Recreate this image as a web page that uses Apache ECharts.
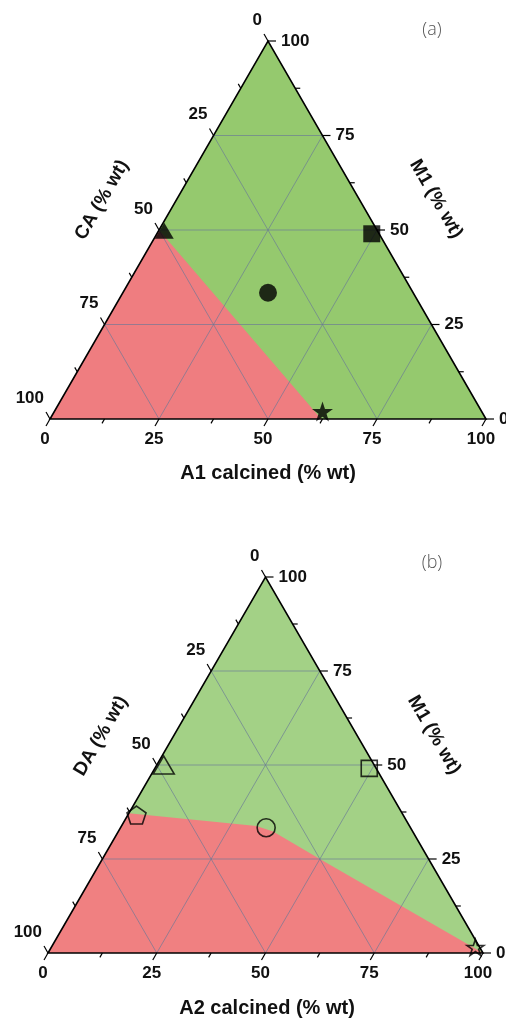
<!DOCTYPE html>
<html><head><meta charset="utf-8">
<script src="https://cdn.jsdelivr.net/npm/echarts@6/dist/echarts.min.js"></script>
<style>html,body{margin:0;padding:0;background:#fff}#c{width:506px;height:1019px}</style>
</head><body><div id="c"></div>
<script>
// ---------- data ----------
const tickMajor = [0, 25, 50, 75, 100];
const tickMinor = [12.5, 37.5, 62.5, 87.5];
const gridVals = [25, 50, 75];

// (a): A1 calcined / M1 (CA = 100 - A1 - M1)
const markersA_symbol = ['triangle', 'square', 'circle', 'star'];
const markersA_A1 = [1.3, 49.3, 33.3, 61.5];
const markersA_M1 = [49.8, 49.0, 33.4, 2.0];
const redA_A1 = [0, 0, 62.2];
const redA_M1 = [0, 50, 0];

// (b): A2 calcined / M1 (DA = 100 - A2 - M1)
const markersB_symbol = ['triangle', 'square', 'pentagon', 'circle', 'star'];
const markersB_A2 = [1.6, 49.3, 2.0, 33.5, 97.5];
const markersB_M1 = [50.0, 49.1, 36.7, 33.3, 1.5];
const redB_A2 = [0, 0, 31.0, 35.6, 50, 100];
const redB_M1 = [0, 37.2, 33.8, 32.3, 25, 0];

// ---------- helpers ----------
const SQ = Math.sqrt(3) / 2;
const tern = (a, m) => [a + m / 2, m * SQ];
const STAR = 'path://M50,0 L61.2,34.5 L97.6,34.5 L68.2,55.9 L79.4,90.5 L50,69.1 L20.6,90.5 L31.8,55.9 L2.4,34.5 L38.8,34.5 Z';
const PENT = 'path://M50,0 L97.6,34.5 L79.4,90.5 L20.6,90.5 L2.4,34.5 Z';
const NUMFONT = 'bold 17px Arial, "Liberation Sans", sans-serif';
const TITLEFONT = 'bold 20px Arial, "Liberation Sans", sans-serif';
const SIDEFONT = 'bold 19px Arial, "Liberation Sans", sans-serif';

const symStyleA = {
  triangle: { symbol: 'triangle', symbolSize: [19, 16] },
  square: { symbol: 'rect', symbolSize: 17 },
  circle: { symbol: 'circle', symbolSize: 18 },
  star: { symbol: STAR, symbolSize: [21, 20] }
};
const symStyleB = {
  triangle: { symbol: 'triangle', symbolSize: [21, 18] },
  square: { symbol: 'rect', symbolSize: 16 },
  circle: { symbol: 'circle', symbolSize: 18 },
  pentagon: { symbol: PENT, symbolSize: [19, 18] },
  star: { symbol: STAR, symbolSize: [17, 16] }
};

// edge points (in A, M) for each axis value
const edge = {
  A: v => tern(v, 0),
  M: v => tern(100 - v, v),
  C: v => tern(0, 100 - v)
};
const dirs = { A: [-0.5, 0.866], M: [1, 0], C: [-0.5, -0.866] };
const labelPos = {
  A: { dx: -5, dy: 20.5, align: 'center' },
  M: { dx: 13, dy: 0, align: 'left' },
  C: { dx: -6, dy: -21, align: 'right' }
};

function polySeries(gi, pts, fill, stroke, z) {
  return {
    type: 'custom', xAxisIndex: gi, yAxisIndex: gi, clip: false, silent: true, z: z,
    data: [[0, 0]],
    renderItem: (params, api) => ({
      type: 'polygon',
      shape: { points: pts.map(p => api.coord(p)) },
      style: stroke ? { fill: 'none', stroke: stroke, lineWidth: 1.6 } : { fill: fill }
    })
  };
}

function gridSeries(gi) {
  return {
    type: 'custom', xAxisIndex: gi, yAxisIndex: gi, clip: false, silent: true, z: 3,
    data: gridVals.map(v => [v, 0]),
    renderItem: (params, api) => {
      const v = api.value(0);
      const segs = [
        [tern(v, 0), tern(v, 100 - v)],
        [tern(0, v), tern(100 - v, v)],
        [tern(100 - v, 0), tern(0, 100 - v)]
      ];
      return {
        type: 'group',
        children: segs.map(s => {
          const p1 = api.coord(s[0]), p2 = api.coord(s[1]);
          return { type: 'line', shape: { x1: p1[0], y1: p1[1], x2: p2[0], y2: p2[1] },
            style: { stroke: 'rgba(105,120,150,0.65)', lineWidth: 1 } };
        })
      };
    }
  };
}

function tickSeries(gi, axis, values, len, withLabel) {
  return {
    type: 'custom', xAxisIndex: gi, yAxisIndex: gi, clip: false, silent: true, z: 6,
    data: values.map(v => [v, 0]),
    renderItem: (params, api) => {
      const v = api.value(0);
      const p = api.coord(edge[axis](v));
      const d = dirs[axis];
      const children = [{
        type: 'line',
        shape: { x1: p[0], y1: p[1], x2: p[0] + d[0] * len, y2: p[1] + d[1] * len },
        style: { stroke: '#000', lineWidth: 1.2 }
      }];
      if (withLabel) {
        const lp = labelPos[axis];
        children.push({
          type: 'text', x: p[0] + lp.dx, y: p[1] + lp.dy,
          style: { text: String(v), font: NUMFONT, fill: '#111', align: lp.align, verticalAlign: 'middle' }
        });
      }
      return { type: 'group', children: children };
    }
  };
}

function markerSeries(gi, names, aVals, mVals, styles, open) {
  return {
    type: 'scatter', xAxisIndex: gi, yAxisIndex: gi, z: 8, silent: true,
    data: names.map((n, i) => Object.assign({ value: tern(aVals[i], mVals[i]) }, styles[n])),
    itemStyle: open ? { color: 'rgba(0,0,0,0)', borderColor: '#000', borderWidth: 1.6 }
                    : { color: '#000', borderColor: '#000', borderWidth: 0 }
  };
}

function plotSeries(gi, redA, redM, green, red) {
  const tri = [tern(0, 0), tern(100, 0), tern(0, 100)];
  const redPts = redA.map((a, i) => tern(a, redM[i]));
  const s = [
    polySeries(gi, tri, green, null, 1),
    polySeries(gi, redPts, red, null, 2),
    gridSeries(gi),
    polySeries(gi, tri, null, '#000', 5)
  ];
  ['A', 'M', 'C'].forEach(ax => {
    s.push(tickSeries(gi, ax, tickMajor, 8, true));
    s.push(tickSeries(gi, ax, tickMinor, 5, false));
  });
  return s;
}

const series = [].concat(
  plotSeries(0, redA_A1, redA_M1, '#95c96e', '#ef7d80'),
  plotSeries(1, redB_A2, redB_M1, '#a3d186', '#f08081'),
  [markerSeries(0, markersA_symbol, markersA_A1, markersA_M1, symStyleA, false),
   markerSeries(1, markersB_symbol, markersB_A2, markersB_M1, symStyleB, true)]
);

function title(x, y, text, rot, font) {
  return { type: 'text', x: x, y: y, rotation: rot, silent: true,
    style: { text: text, font: font || TITLEFONT, fill: '#111', align: 'center', verticalAlign: 'middle' } };
}
function panelTag(x, y, text) {
  return { type: 'text', x: x, y: y, silent: true,
    style: { text: text, font: '300 18px "Open Sans", "Noto Sans", sans-serif', fill: '#555', align: 'center', verticalAlign: 'middle' } };
}

const chart = echarts.init(document.getElementById('c'), null, { renderer: 'canvas' });
chart.setOption({
  animation: false,
  backgroundColor: '#ffffff',
  grid: [
    { left: 50, top: 41, width: 436, height: 378 },
    { left: 48, top: 577, width: 435, height: 376 }
  ],
  xAxis: [
    { gridIndex: 0, type: 'value', min: 0, max: 100, show: false },
    { gridIndex: 1, type: 'value', min: 0, max: 100, show: false }
  ],
  yAxis: [
    { gridIndex: 0, type: 'value', min: 0, max: 100 * SQ, show: false },
    { gridIndex: 1, type: 'value', min: 0, max: 100 * SQ, show: false }
  ],
  graphic: [
    title(268, 473, 'A1 calcined (% wt)', 0),
    title(102, 200, 'CA (% wt)', Math.PI / 3, SIDEFONT),
    title(436, 199, 'M1 (% wt)', -Math.PI / 3, SIDEFONT),
    panelTag(432, 30, '(a)'),
    title(267, 1008, 'A2 calcined (% wt)', 0),
    title(101, 736, 'DA (% wt)', Math.PI / 3, SIDEFONT),
    title(434, 735, 'M1 (% wt)', -Math.PI / 3, SIDEFONT),
    panelTag(432, 563, '(b)')
  ],
  series: series
});
</script></body></html>
